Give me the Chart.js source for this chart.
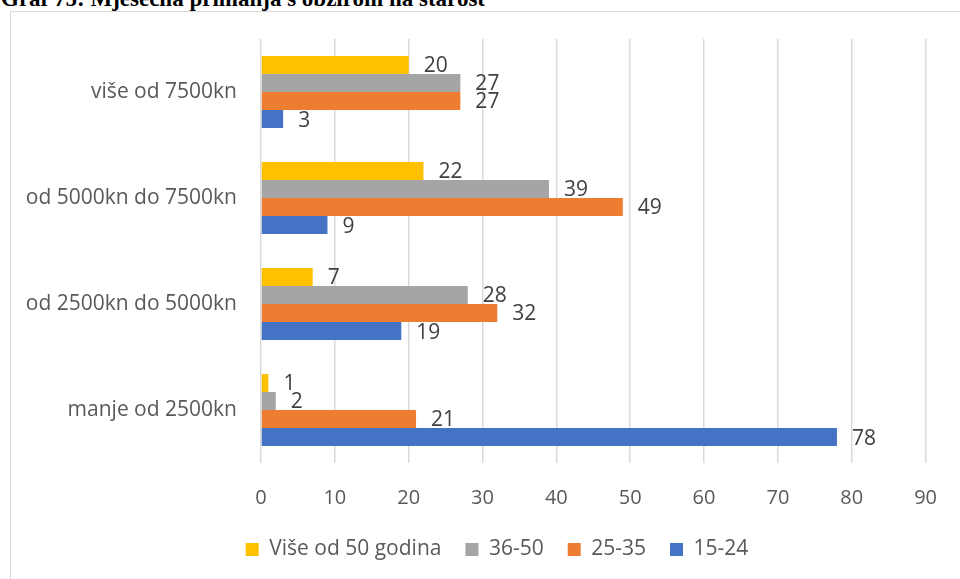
<!DOCTYPE html>
<html>
<head>
<meta charset="utf-8">
<script src="https://cdn.jsdelivr.net/npm/chart.js@4.4.0/dist/chart.umd.min.js"></script>
<style>
  html, body { margin: 0; padding: 0; background: #fff; }
  #wrap { position: relative; width: 960px; height: 579px; overflow: hidden; }
  #title {
    position: absolute; left: 1px; top: -11px;
    font: bold 23px "Liberation Serif", "Times New Roman", serif;
    line-height: 20px; color: #000; white-space: nowrap;
  }
  #frame {
    position: absolute; left: 10px; top: 11px; width: 1000px; height: 700px;
    border: 1px solid #d9d9d9;
  }
  #chart { position: absolute; left: 0; top: 0; }
</style>
</head>
<body>
<div id="wrap">
  <div id="frame"></div>
  <div id="title">Graf 75: Mjesečna primanja s obzirom na starost</div>
  <canvas id="chart" width="960" height="579"></canvas>
</div>
<script>
// categories, top to bottom
const categories = ['više od 7500kn', 'od 5000kn do 7500kn', 'od 2500kn do 5000kn', 'manje od 2500kn'];

// series values
const over50 = [20, 22, 7, 1];
const age36to50 = [27, 39, 28, 2];
const age25to35 = [27, 49, 32, 21];
const age15to24 = [3, 9, 19, 78];

const xTicks = [0, 10, 20, 30, 40, 50, 60, 70, 80, 90];

// value labels at the end of each bar
const barLabels = {
  id: 'barLabels',
  afterDatasetsDraw(chart) {
    const ctx = chart.ctx;
    ctx.save();
    ctx.font = '21px "Open Sans"';
    ctx.fillStyle = '#404040';
    ctx.textAlign = 'left';
    ctx.textBaseline = 'middle';
    chart.data.datasets.forEach((ds, i) => {
      const meta = chart.getDatasetMeta(i);
      meta.data.forEach((bar, j) => {
        ctx.fillText(ds.data[j], bar.x + 15, bar.y + 1.5);
      });
    });
    ctx.restore();
  }
};

// legend sits a bit right of the canvas middle
const shiftLegend = {
  id: 'shiftLegend',
  afterLayout(chart) {
    chart.legend.left += 27;
    chart.legend.right += 27;
    chart.legend.top += 2;
    chart.legend.bottom += 2;
  }
};

const ctx = document.getElementById('chart').getContext('2d');
new Chart(ctx, {
  type: 'bar',
  data: {
    labels: categories,
    datasets: [
      { label: 'Više od 50 godina', data: over50, backgroundColor: '#FFC000' },
      { label: '36-50', data: age36to50, backgroundColor: '#A5A5A5' },
      { label: '25-35', data: age25to35, backgroundColor: '#ED7D31' },
      { label: '15-24', data: age15to24, backgroundColor: '#4472C4' }
    ]
  },
  options: {
    indexAxis: 'y',
    responsive: false,
    animation: false,
    datasets: {
      bar: { categoryPercentage: 0.68, barPercentage: 1 }
    },
    layout: {
      padding: { left: 0, right: 20, top: 39, bottom: 11 }
    },
    scales: {
      x: {
        min: 0,
        max: 90,
        afterBuildTicks: (scale) => { scale.ticks = xTicks.map(v => ({ value: v })); },
        afterFit: (scale) => { scale.height = 50; },
        grid: { color: '#d9d9d9', lineWidth: 1.5, drawTicks: false },
        border: { display: false },
        ticks: { color: '#595959', font: { family: 'Open Sans', size: 20 }, padding: 23 }
      },
      y: {
        afterFit: (scale) => { scale.width = 261; },
        grid: { display: false, drawTicks: false },
        border: { display: false },
        ticks: { color: '#595959', font: { family: 'Open Sans', size: 21 }, padding: 24 }
      }
    },
    plugins: {
      legend: {
        position: 'bottom',
        labels: {
          color: '#595959',
          font: { family: 'Open Sans', size: 21 },
          boxWidth: 13,
          boxHeight: 13,
          padding: 24
        }
      },
      tooltip: { enabled: false }
    }
  },
  plugins: [barLabels, shiftLegend]
});
</script>
</body>
</html>
